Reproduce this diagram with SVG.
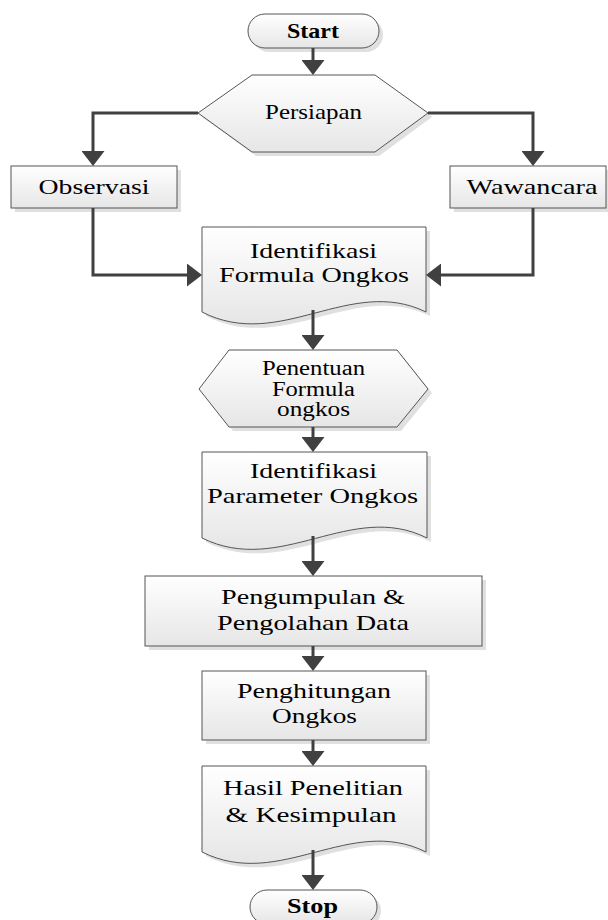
<svg xmlns="http://www.w3.org/2000/svg" width="608" height="920" viewBox="0 0 608 920">
<defs>
<linearGradient id="g" x1="0" y1="0" x2="0" y2="1">
<stop offset="0" stop-color="#ffffff"/>
<stop offset="1" stop-color="#e6e6e6"/>
</linearGradient>
<marker id="ah" markerUnits="userSpaceOnUse" markerWidth="15" markerHeight="23" viewBox="0 0 15 23" refX="11" refY="11.5" orient="auto">
<path d="M0,0 L15,11.5 L0,23 Z" fill="#404040"/>
</marker>
<style>
.sh{fill:#e0e0e0;stroke:none}
.shp{fill:url(#g);stroke:#555;stroke-width:1}
.t{font-family:"Liberation Serif","Times New Roman",serif;font-size:22px;fill:#000;text-anchor:middle}
.b{font-weight:bold}
.s{font-size:20px}
.c{fill:none;stroke:#404040;stroke-width:3;marker-end:url(#ah)}
</style>
</defs>
<rect width="608" height="920" fill="#ffffff"/>

<g id="start">
<rect class="sh" x="252" y="18" width="131" height="34" rx="17"/>
<rect class="shp" x="248" y="14" width="131" height="34" rx="17"/>
<text class="t b" x="313" y="38" textLength="52" lengthAdjust="spacingAndGlyphs">Start</text>
</g>

<g id="persiapan">
<polygon class="sh" points="202,117 256,79 379,79 432,117 379,156 256,156"/>
<polygon class="shp" points="198,113 252,75 375,75 428,113 375,152 252,152"/>
<text class="t" x="313.5" y="119" textLength="97" lengthAdjust="spacingAndGlyphs">Persiapan</text>
</g>

<g id="observasi">
<rect class="sh" x="15" y="170" width="166" height="42"/>
<rect class="shp" x="11" y="166" width="166" height="42"/>
<text class="t" x="94" y="194" textLength="111" lengthAdjust="spacingAndGlyphs">Observasi</text>
</g>

<g id="wawancara">
<rect class="sh" x="454" y="170" width="156" height="42"/>
<rect class="shp" x="450" y="166" width="156" height="42"/>
<text class="t" x="532" y="194" textLength="131" lengthAdjust="spacingAndGlyphs">Wawancara</text>
</g>

<g id="identifikasi-formula">
<path class="sh" d="M206,231 H430 V316 C354,279 284,356 206,316 Z"/>
<path class="shp" d="M202,227 H426 V312 C350,275 280,352 202,312 Z"/>
<text class="t" x="313.5" y="258" textLength="127" lengthAdjust="spacingAndGlyphs">Identifikasi</text>
<text class="t" x="314" y="282" textLength="190" lengthAdjust="spacingAndGlyphs">Formula Ongkos</text>
</g>

<g id="penentuan">
<polygon class="sh" points="203,393 233,354 401,354 432,393 401,431 233,431"/>
<polygon class="shp" points="199,389 229,350 397,350 428,389 397,427 229,427"/>
<text class="t s" x="313.5" y="375" textLength="103" lengthAdjust="spacingAndGlyphs">Penentuan</text>
<text class="t s" x="313.5" y="396" textLength="83" lengthAdjust="spacingAndGlyphs">Formula</text>
<text class="t s" x="313.5" y="416" textLength="73" lengthAdjust="spacingAndGlyphs">ongkos</text>
</g>

<g id="identifikasi-parameter">
<path class="sh" d="M206,456 H431 V542 C355,504 285,581 206,542 Z"/>
<path class="shp" d="M202,452 H427 V538 C351,500 281,577 202,538 Z"/>
<text class="t" x="313.5" y="478" textLength="127" lengthAdjust="spacingAndGlyphs">Identifikasi</text>
<text class="t" x="312.5" y="503" textLength="211" lengthAdjust="spacingAndGlyphs">Parameter Ongkos</text>
</g>

<g id="pengumpulan">
<rect class="sh" x="149" y="580" width="337" height="70"/>
<rect class="shp" x="145" y="576" width="337" height="70"/>
<text class="t" x="313" y="604" textLength="184" lengthAdjust="spacingAndGlyphs">Pengumpulan &amp;</text>
<text class="t" x="313" y="630" textLength="192" lengthAdjust="spacingAndGlyphs">Pengolahan Data</text>
</g>

<g id="penghitungan">
<rect class="sh" x="206" y="675" width="224" height="69"/>
<rect class="shp" x="202" y="671" width="224" height="69"/>
<text class="t" x="314" y="698" textLength="154" lengthAdjust="spacingAndGlyphs">Penghitungan</text>
<text class="t" x="314.5" y="723" textLength="85" lengthAdjust="spacingAndGlyphs">Ongkos</text>
</g>

<g id="hasil">
<path class="sh" d="M206,770 H430 V856 C354,818 284,895 206,856 Z"/>
<path class="shp" d="M202,766 H426 V852 C350,814 280,891 202,852 Z"/>
<text class="t" x="313" y="795" textLength="180" lengthAdjust="spacingAndGlyphs">Hasil Penelitian</text>
<text class="t" x="311" y="822" textLength="171" lengthAdjust="spacingAndGlyphs">&amp; Kesimpulan</text>
</g>

<g id="stop">
<rect class="sh" x="254" y="894" width="127" height="34" rx="17"/>
<rect class="shp" x="250" y="890" width="127" height="34" rx="17"/>
<text class="t b" x="312.5" y="913" textLength="51" lengthAdjust="spacingAndGlyphs">Stop</text>
</g>

<g id="connectors">
<path class="c" d="M313,48 V71"/>
<path class="c" d="M198,113 H93 V162"/>
<path class="c" d="M428,113 H533 V162"/>
<path class="c" d="M93,208 V275 H198"/>
<path class="c" d="M533,208 V275 H430"/>
<path class="c" d="M313,310 V346"/>
<path class="c" d="M313,427 V448"/>
<path class="c" d="M313,536 V572"/>
<path class="c" d="M313,646 V667"/>
<path class="c" d="M313,740 V762"/>
<path class="c" d="M313,850 V886"/>
</g>
</svg>
